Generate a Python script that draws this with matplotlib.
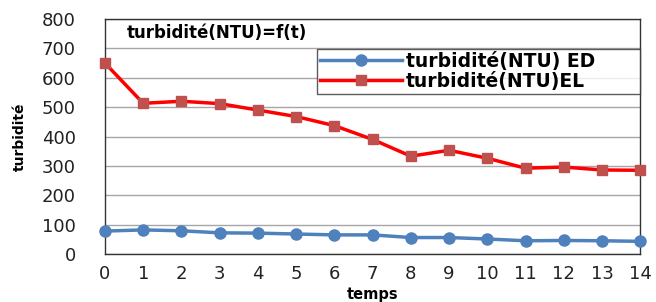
import matplotlib.pyplot as plt

# ---- data ----
temps = list(range(15))
turb_ed = [78, 82, 79, 72, 71, 68, 65, 65, 56, 56, 51, 45, 46, 45, 43]
turb_el = [650, 513, 520, 512, 490, 468, 437, 390, 333, 353, 326, 292, 296, 286, 285]
yticks = [0, 100, 200, 300, 400, 500, 600, 700, 800]

plt.rcParams['font.family'] = ['DejaVu Sans']

fig = plt.figure(figsize=(6.56, 3.02), dpi=100)
ax = fig.add_axes([0.160, 0.159, 0.816, 0.778])

ax.plot(temps, turb_ed, color="#4F81BD", linewidth=2.5, marker="o",
        markersize=8, markerfacecolor="#4F81BD", markeredgecolor="#4F81BD",
        clip_on=False, zorder=3, label="turbidité(NTU) ED")
ax.plot(temps, turb_el, color="#FF0000", linewidth=2.5, marker="s",
        markersize=7, markerfacecolor="#C0504D", markeredgecolor="#C0504D",
        clip_on=False, zorder=3, label="turbidité(NTU)EL")

ax.set_xlim(0, 14)
ax.set_ylim(0, 800)
ax.set_xticks(temps)
ax.set_yticks(yticks)
ax.tick_params(axis="both", length=0, labelsize=13, colors="#222222")
ax.tick_params(axis="x", pad=8)
ax.tick_params(axis="y", pad=21)
ax.grid(axis="y", color="#A6A6A6", linewidth=1)
ax.set_axisbelow(True)
for s in ax.spines.values():
    s.set_color("#333333")
    s.set_linewidth(1)

ax.text(0.04, 0.94, "turbidité(NTU)=f(t)", transform=ax.transAxes,
        fontsize=12, fontweight="bold", va="center", ha="left")

# legend box stretched over the right part of the plot, like the Excel chart
leg = ax.legend(loc="upper left", bbox_to_anchor=(0.396, 0.5, 0.604, 0.372),
                mode="expand", fontsize=13.5, frameon=True, fancybox=False,
                borderpad=0.15, handlelength=4.4, handletextpad=0.2,
                labelspacing=0.05, borderaxespad=0)
leg.get_frame().set_edgecolor("#333333")
leg.get_frame().set_linewidth(1)
for t in leg.get_texts():
    t.set_fontweight("bold")

# y label sits just left of the tick labels
fig.text(20 / 656, 1 - 137 / 302, "turbidité", rotation=90, fontsize=10,
         fontweight="bold", ha="center", va="center")
ax.set_xlabel("temps", fontsize=10.5, fontweight="bold")
ax.xaxis.set_label_coords(0.5, -0.14)

fig.savefig("out.png", dpi=100)
